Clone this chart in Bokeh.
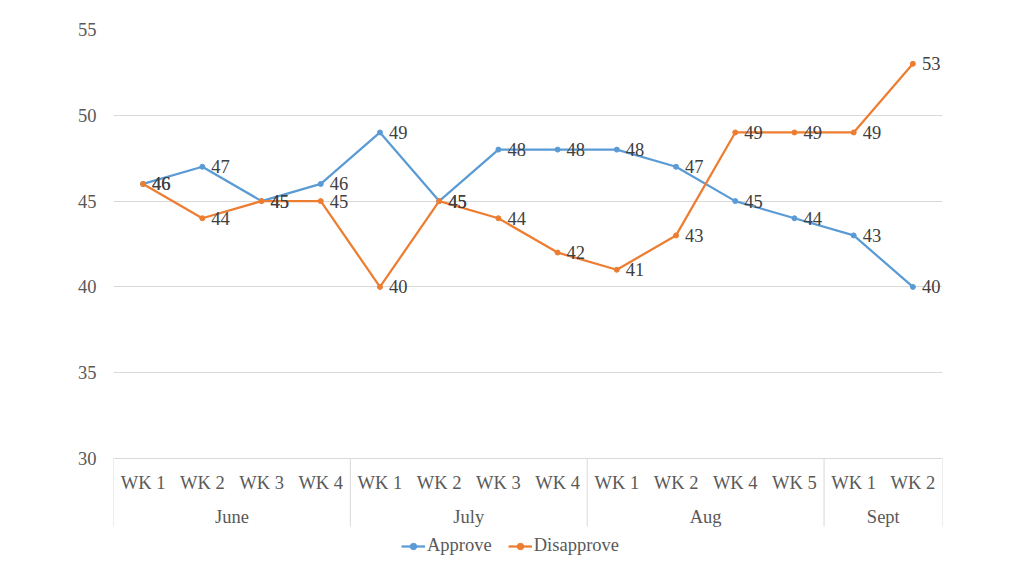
from bokeh.plotting import figure
from bokeh.models import (Range1d, FixedTicker, LinearAxis, ColumnDataSource,
                          Legend, LegendItem)
from bokeh.core.properties import value
from bokeh.embed import file_html
from bokeh.resources import INLINE

# ---- data ----
weeks = ["WK 1", "WK 2", "WK 3", "WK 4",
         "WK 1", "WK 2", "WK 3", "WK 4",
         "WK 1", "WK 2", "WK 4", "WK 5",
         "WK 1", "WK 2"]
months = ["June", "July", "Aug", "Sept"]
month_counts = [4, 4, 4, 2]
approve = [46, 47, 45, 46, 49, 45, 48, 48, 48, 47, 45, 44, 43, 40]
disapprove = [46, 44, 45, 45, 40, 45, 44, 42, 41, 43, 49, 49, 49, 53]
y_ticks = [30, 35, 40, 45, 50, 55]

FONT = "Liberation Serif"
FS = "18.5px"
BLUE = "#5B9BD5"
ORANGE = "#ED7D31"
TXT = "#595959"
GRID = "#D9D9D9"

# ---- geometry (pixels) ----
W, H = 1008, 560
left, right, top = 113, 66, 29
axis_px = 458                  # screen y of the value 30
y_min, y_max = y_ticks[0], y_ticks[-1]
px_per_unit = (axis_px - top) / (y_max - y_min)
y_start = y_min - (H - axis_px) / px_per_unit

n = len(weeks)
xs = [i + 0.5 for i in range(n)]

p = figure(width=W, height=H, output_backend="svg", toolbar_location=None,
           x_range=Range1d(0, n), y_range=Range1d(y_start, y_max),
           x_axis_location=None, y_axis_location=None,
           min_border_left=left, min_border_right=right,
           min_border_top=top, min_border_bottom=0)
p.outline_line_color = None
p.background_fill_color = "white"
p.border_fill_color = "white"

# y axis
yaxis = LinearAxis(ticker=FixedTicker(ticks=y_ticks))
yaxis.axis_line_color = None
yaxis.major_tick_line_color = None
yaxis.minor_tick_line_color = None
yaxis.major_tick_out = 0
yaxis.major_label_standoff = 17
yaxis.major_label_text_font = FONT
yaxis.major_label_text_font_size = FS
yaxis.major_label_text_color = TXT
p.add_layout(yaxis, "left")

p.ygrid.ticker = FixedTicker(ticks=y_ticks[1:])
p.ygrid.grid_line_color = GRID
p.xgrid.grid_line_color = None

# x axis at y = 30
xaxis = LinearAxis(ticker=FixedTicker(ticks=xs),
                   major_label_overrides={x: w for x, w in zip(xs, weeks)},
                   fixed_location=y_min)
xaxis.axis_line_color = GRID
xaxis.axis_line_width = 1
xaxis.major_tick_line_color = None
xaxis.minor_tick_line_color = None
xaxis.major_tick_out = 0
xaxis.major_tick_in = 0
xaxis.major_label_standoff = 14
xaxis.major_label_text_font = FONT
xaxis.major_label_text_font_size = FS
xaxis.major_label_text_color = TXT
p.add_layout(xaxis, "below")

# group separators and month labels
bounds = [0]
for c in month_counts:
    bounds.append(bounds[-1] + c)
sep_bottom = y_min - (526 - axis_px) / px_per_unit
p.segment(x0=bounds, y0=[y_min] * len(bounds), x1=bounds,
          y1=[sep_bottom] * len(bounds), line_color=GRID, line_width=1)
centers = [(bounds[i] + bounds[i + 1]) / 2 for i in range(len(months))]
month_y = y_min - (516 - axis_px) / px_per_unit
p.text(x=centers, y=[month_y] * len(months), text=months,
       text_font=value(FONT), text_font_size=FS, text_color=TXT,
       text_align="center", text_baseline="middle")

# series
src = ColumnDataSource(dict(x=xs, a=approve, d=disapprove,
                            at=[str(v) for v in approve],
                            dt=[str(v) for v in disapprove]))
la = p.line("x", "a", source=src, line_color=BLUE, line_width=2.25)
ma = p.scatter("x", "a", source=src, marker="circle", size=5,
               fill_color=BLUE, line_color=BLUE)
ld = p.line("x", "d", source=src, line_color=ORANGE, line_width=2.25)
md = p.scatter("x", "d", source=src, marker="circle", size=5,
               fill_color=ORANGE, line_color=ORANGE)

for col, tcol in (("a", "at"), ("d", "dt")):
    p.text(x="x", y=col, text=tcol, source=src, x_offset=9,
           text_font=value(FONT), text_font_size=FS, text_color="#404040",
           text_align="left", text_baseline="middle")

legend = Legend(items=[LegendItem(label="Approve", renderers=[la, ma]),
                       LegendItem(label="Disapprove", renderers=[ld, md])],
                location=(288, 4), orientation="horizontal")
legend.border_line_color = None
legend.background_fill_alpha = 0
legend.label_text_font = FONT
legend.label_text_font_size = FS
legend.label_text_color = TXT
legend.glyph_width = 24
legend.glyph_height = 16
legend.label_height = 16
legend.label_standoff = 2
legend.spacing = 16
legend.padding = 4
legend.margin = 0
p.add_layout(legend, "center")

open("out.html", "w").write(file_html(p, INLINE))
